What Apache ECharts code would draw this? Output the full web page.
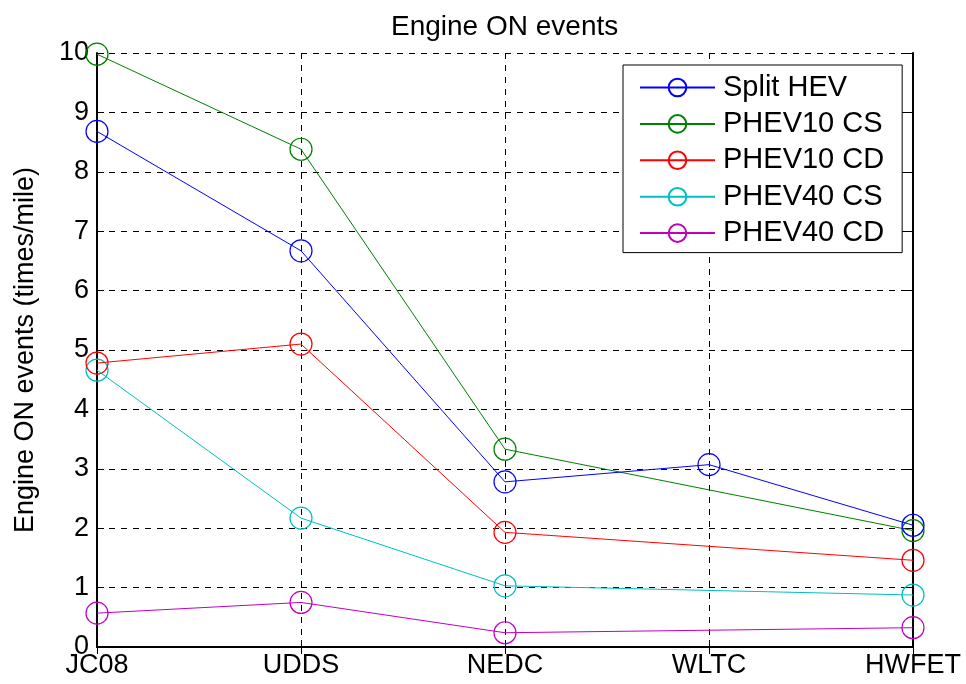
<!DOCTYPE html>
<html>
<head>
<meta charset="utf-8">
<script src="https://cdn.jsdelivr.net/npm/echarts@6/dist/echarts.min.js"></script>
<style>
  html, body { margin: 0; padding: 0; background: #fff; }
  #chart { width: 966px; height: 684px; }
</style>
</head>
<body>
<div id="chart"></div>
<script>
// Drive cycles on the x axis
const cycles = ['JC08', 'UDDS', 'NEDC', 'WLTC', 'HWFET'];

// Engine ON events per mile for each powertrain (null = cycle not run)
const splitHev  = [8.68, 6.67, 2.78, 3.07, 2.05];
const phev10Cs  = [9.98, 8.38, 3.33, null, 1.96];
const phev10Cd  = [4.78, 5.10, 1.93, null, 1.46];
const phev40Cs  = [4.66, 2.17, 1.03, null, 0.875];
const phev40Cd  = [0.57, 0.75, 0.24, null, 0.325];

const seriesNames  = ['Split HEV', 'PHEV10 CS', 'PHEV10 CD', 'PHEV40 CS', 'PHEV40 CD'];
const seriesValues = [splitHev, phev10Cs, phev10Cd, phev40Cs, phev40Cd];
const seriesColors = ['#0000ff', '#008000', '#ff0000', '#00bfbf', '#bf00bf'];

const yTicks = { min: 0, max: 10, interval: 1 };

const font = 'Liberation Sans, Arial, sans-serif';
const chart = echarts.init(document.getElementById('chart'), null, { renderer: 'canvas' });

const dashed = { show: true, lineStyle: { color: '#000', type: [6, 6], width: 1 } };

chart.setOption({
  animation: false,
  backgroundColor: '#fff',
  title: {
    text: 'Engine ON events',
    left: 386,
    top: 8,
    textStyle: { fontFamily: font, fontSize: 28, fontWeight: 'normal', color: '#000' }
  },
  grid: { left: 97, right: 53, top: 53, bottom: 37, containLabel: false },
  legend: {
    orient: 'vertical',
    left: 623,
    top: 65,
    padding: [8, 18, 5, 16],
    itemGap: 7.4,
    itemWidth: 75,
    itemHeight: 22,
    borderColor: '#000',
    borderWidth: 1,
    borderRadius: 0,
    backgroundColor: '#fff',
    textStyle: { fontFamily: font, fontSize: 29, color: '#000', padding: [0, 0, 0, 3] },
    data: seriesNames
  },
  xAxis: [
    {
      type: 'category',
      data: cycles,
      boundaryGap: false,
      axisLine: { show: true, lineStyle: { color: '#000', width: 2 } },
      axisTick: { show: true, inside: true, length: 7, lineStyle: { color: '#000' } },
      axisLabel: { fontFamily: font, fontSize: 27, color: '#000', margin: 5 },
      splitLine: dashed
    },
    {
      type: 'category',
      data: cycles,
      boundaryGap: false,
      position: 'top',
      axisLine: { show: true, lineStyle: { color: '#000', width: 2 } },
      axisTick: { show: true, inside: true, length: 7, lineStyle: { color: '#000' } },
      axisLabel: { show: false },
      splitLine: { show: false }
    }
  ],
  yAxis: [
    {
      type: 'value',
      min: yTicks.min,
      max: yTicks.max,
      interval: yTicks.interval,
      name: 'Engine ON events (times/mile)',
      nameLocation: 'middle',
      nameGap: 58,
      nameTextStyle: { fontFamily: font, fontSize: 27, color: '#000' },
      axisLine: { show: true, lineStyle: { color: '#000', width: 2 } },
      axisTick: { show: true, inside: true, length: 7, lineStyle: { color: '#000' } },
      axisLabel: { fontFamily: font, fontSize: 27, color: '#000', margin: 8 },
      splitLine: dashed
    },
    {
      type: 'value',
      min: yTicks.min,
      max: yTicks.max,
      interval: yTicks.interval,
      position: 'right',
      axisLine: { show: true, lineStyle: { color: '#000', width: 2 } },
      axisTick: { show: true, inside: true, length: 7, lineStyle: { color: '#000' } },
      axisLabel: { show: false },
      splitLine: { show: false }
    }
  ],
  series: seriesNames.map((name, i) => ({
    name: name,
    type: 'line',
    data: seriesValues[i],
    connectNulls: true,
    symbol: 'circle',
    symbolSize: 22,
    showAllSymbol: true,
    clip: false,
    lineStyle: { color: seriesColors[i], width: 1 },
    itemStyle: { color: 'rgba(0,0,0,0)', borderColor: seriesColors[i], borderWidth: 1.2 },
    z: 10 - i
  }))
});
</script>
</body>
</html>
